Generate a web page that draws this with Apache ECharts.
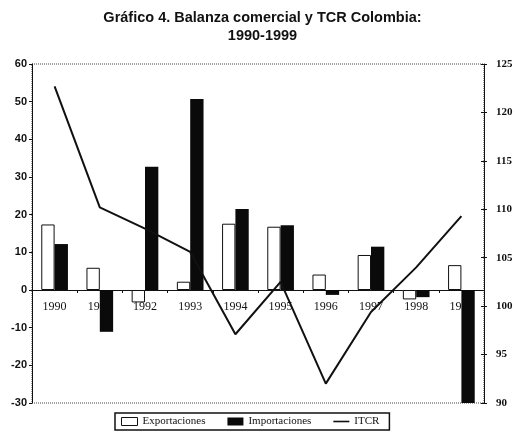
<!DOCTYPE html>
<html>
<head>
<meta charset="utf-8">
<script src="https://cdn.jsdelivr.net/npm/echarts@6/dist/echarts.min.js"></script>
<style>html,body{margin:0;padding:0;background:#fff;}#c{width:525px;height:447px;}</style>
</head>
<body>
<div id="c"></div>
<script>
const years = ['1990','1991','1992','1993','1994','1995','1996','1997','1998','1999'];
const exportaciones = [17.4, 5.9, -3.3, 2.2, 17.6, 16.8, 4.1, 9.3, -2.5, 6.6];
const importaciones = [12.2, -11.1, 32.7, 50.7, 21.5, 17.2, -1.3, 11.5, -1.9, -30];
const itcr = [122.7, 110.2, 108.0, 105.6, 97.1, 102.5, 92.0, 99.4, 104.0, 109.3];
const leftTicks = {min: -30, max: 60, interval: 10};
const rightTicks = {min: 90, max: 125, interval: 5};

const gridTop = 64, gridBottom = 44, H = 447;
const plotH = H - gridTop - gridBottom;
// distance of the zero line above the bottom edge of the plot
const zeroOffset = plotH * (0 - leftTicks.min) / (leftTicks.max - leftTicks.min);

const chart = echarts.init(document.getElementById('c'));
const serif = 'Liberation Serif';
chart.setOption({
  animation: false,
  backgroundColor: '#fff',
  title: {
    text: 'Gráfico 4. Balanza comercial y TCR Colombia:\n1990-1999',
    left: 'center', top: 4,
    textStyle: {fontFamily: 'Liberation Sans', fontWeight: 'bold', fontSize: 14.5, lineHeight: 18, color: '#111'}
  },
  legend: {
    left: 115, top: 413,
    itemWidth: 16, itemHeight: 8, itemGap: 22,
    padding: [3, 10, 3, 6],
    borderColor: '#111', borderWidth: 1.5,
    textStyle: {fontFamily: serif, fontSize: 11, color: '#111'},
    data: [
      {name: 'Exportaciones', icon: 'rect', itemStyle: {color: '#fff', borderColor: '#111', borderWidth: 1}},
      {name: 'Importaciones', icon: 'rect'},
      {name: 'ITCR', icon: 'path://M0,0 L20,0 L20,2 L0,2 Z', itemStyle: {color: '#111'}}
    ]
  },
  grid: {left: 32, right: 41, top: gridTop, bottom: gridBottom, show: true, borderColor: '#444', borderWidth: 1, borderType: 'dotted'},
  xAxis: {
    type: 'category', data: years, position: 'bottom', offset: -zeroOffset,
    axisLine: {onZero: false, lineStyle: {color: '#111', width: 1}},
    axisTick: {show: true, length: 3, lineStyle: {color: '#111'}},
    axisLabel: {fontFamily: serif, fontSize: 12, color: '#111', margin: 11}
  },
  yAxis: [
    {type: 'value', position: 'left', min: leftTicks.min, max: leftTicks.max, interval: leftTicks.interval,
     splitLine: {show: false},
     axisLine: {show: true, lineStyle: {color: '#111', width: 1}},
     axisTick: {show: true, length: 3, lineStyle: {color: '#111'}},
     axisLabel: {fontFamily: 'Liberation Sans', fontWeight: 'bold', fontSize: 11, color: '#111', margin: 5}},
    {type: 'value', position: 'right', min: rightTicks.min, max: rightTicks.max, interval: rightTicks.interval,
     splitLine: {show: false},
     axisLine: {show: true, lineStyle: {color: '#111', width: 1}},
     axisTick: {show: true, length: 3, lineStyle: {color: '#111'}},
     axisLabel: {fontFamily: serif, fontWeight: 'bold', fontSize: 11, color: '#111', margin: 12}},
    {type: 'value', position: 'right', min: rightTicks.min, max: rightTicks.max, interval: rightTicks.interval,
     splitLine: {show: false},
     axisLine: {show: false},
     axisTick: {show: true, inside: true, length: 3, lineStyle: {color: '#111'}},
     axisLabel: {show: false}}
  ],
  series: [
    {name: 'Exportaciones', type: 'bar', data: exportaciones, barWidth: '29.5%', barGap: '0%',
     itemStyle: {color: '#fff', borderColor: '#111', borderWidth: 1}},
    {name: 'Importaciones', type: 'bar', data: importaciones, barWidth: '29.5%',
     itemStyle: {color: '#0a0a0a'}},
    {name: 'ITCR', type: 'line', yAxisIndex: 1, data: itcr, symbol: 'none',
     lineStyle: {color: '#111', width: 2}, itemStyle: {color: '#111'}}
  ]
});
</script>
</body>
</html>
